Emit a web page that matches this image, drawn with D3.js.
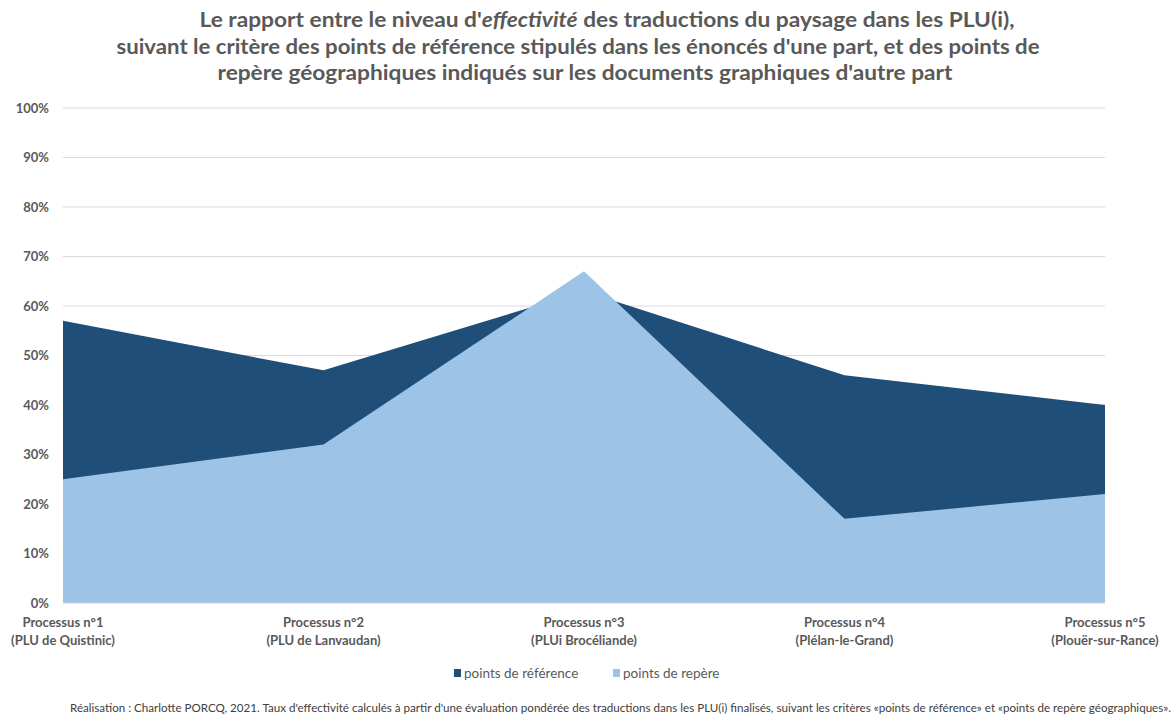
<!DOCTYPE html>
<html><head><meta charset="utf-8">
<script src="https://cdn.jsdelivr.net/npm/d3@7"></script>
<style>body{margin:0;background:#fff;} svg{display:block;}</style>
</head><body>
<svg id="c" width="1173" height="718"></svg>
<script>
const categories = [
  ["Processus n°1", "(PLU de Quistinic)"],
  ["Processus n°2", "(PLU de Lanvaudan)"],
  ["Processus n°3", "(PLUi Brocéliande)"],
  ["Processus n°4", "(Plélan-le-Grand)"],
  ["Processus n°5", "(Plouër-sur-Rance)"]
];
const pointsReference = [0.57, 0.47, 0.63, 0.46, 0.40];
const pointsRepere = [0.25, 0.32, 0.67, 0.17, 0.22];
const yTicks = [0, 0.1, 0.2, 0.3, 0.4, 0.5, 0.6, 0.7, 0.8, 0.9, 1.0];
const seriesNames = ["points de référence", "points de repère"];
const colors = ["#1f4e79", "#9dc3e6"];

const svg = d3.select("#c");
const font = "Lato, 'Open Sans', sans-serif";
const gray = "#595959";

const x = d3.scalePoint().domain(d3.range(categories.length)).range([63, 1105]);
const y = d3.scaleLinear().domain([0, 1]).range([603, 108]);

// gridlines
svg.append("g").selectAll("line").data(yTicks).join("line")
  .attr("x1", 63).attr("x2", 1105)
  .attr("y1", d => y(d)).attr("y2", d => y(d))
  .attr("stroke", "#d9d9d9").attr("stroke-width", 1);

// y axis labels
const yAxis = d3.axisLeft(y).tickValues(yTicks).tickFormat(d3.format(".0%")).tickSize(0).tickPadding(14);
const ya = svg.append("g").attr("transform", "translate(63,0)").call(yAxis);
ya.select(".domain").remove();
ya.selectAll("text").attr("font-family", font).attr("font-weight", "bold")
  .attr("font-size", 13).attr("fill", gray);

// areas
const area = d3.area().x((d, i) => x(i)).y0(y(0)).y1(d => y(d));
[pointsReference, pointsRepere].forEach((s, k) => {
  svg.append("path").datum(s).attr("d", area).attr("fill", colors[k]);
});

// baseline
svg.append("line").attr("x1", 63).attr("x2", 1105).attr("y1", y(0)).attr("y2", y(0))
  .attr("stroke", "#d9d9d9");

// x labels
const xl = svg.append("g").selectAll("text").data(categories).join("text")
  .attr("text-anchor", "middle").attr("font-family", font).attr("font-weight", "bold")
  .attr("font-size", 13).attr("fill", gray);
xl.append("tspan").attr("x", (d, i) => x(i)).attr("y", 627).text(d => d[0]);
xl.append("tspan").attr("x", (d, i) => x(i)).attr("y", 645).text(d => d[1]);

// title
const titleLines = [
  {cx: 607, y: 27, w: 815},
  {cx: 578, y: 54, w: 923},
  {cx: 585, y: 80, w: 735}
];
const t0 = svg.append("text").attr("x", titleLines[0].cx).attr("y", titleLines[0].y)
  .attr("text-anchor", "middle").attr("font-family", font).attr("font-weight", "bold")
  .attr("font-size", 20).attr("fill", gray)
  .attr("textLength", titleLines[0].w).attr("lengthAdjust", "spacingAndGlyphs");
t0.append("tspan").text("Le rapport entre le niveau d'");
t0.append("tspan").attr("font-style", "italic").text("effectivité");
t0.append("tspan").text(" des traductions du paysage dans les PLU(i),");
const otherLines = [
  "suivant le critère des points de référence stipulés dans les énoncés d'une part, et des points de",
  "repère géographiques indiqués sur les documents graphiques d'autre part"
];
otherLines.forEach((t, i) => {
  const L = titleLines[i + 1];
  svg.append("text").attr("x", L.cx).attr("y", L.y).attr("text-anchor", "middle")
    .attr("font-family", font).attr("font-weight", "bold").attr("font-size", 20)
    .attr("fill", gray).attr("textLength", L.w).attr("lengthAdjust", "spacingAndGlyphs").text(t);
});

// legend
const legX = [454, 613];
seriesNames.forEach((n, i) => {
  svg.append("rect").attr("x", legX[i]).attr("y", 669).attr("width", 7).attr("height", 8).attr("fill", colors[i]);
  svg.append("text").attr("x", legX[i] + 10).attr("y", 678).attr("font-family", font)
    .attr("font-size", 13.5).attr("fill", gray).text(n);
});

// footnote
svg.append("text").attr("x", 70).attr("y", 712).attr("font-family", font).attr("font-size", 10.5)
  .attr("fill", "#404040").attr("textLength", 1101).attr("lengthAdjust", "spacingAndGlyphs")
  .text("Réalisation : Charlotte PORCQ, 2021. Taux d'effectivité calculés à partir d'une évaluation pondérée des traductions dans les PLU(i) finalisés, suivant les critères «points de référence» et «points de repère géographiques».");
</script>
</body></html>
